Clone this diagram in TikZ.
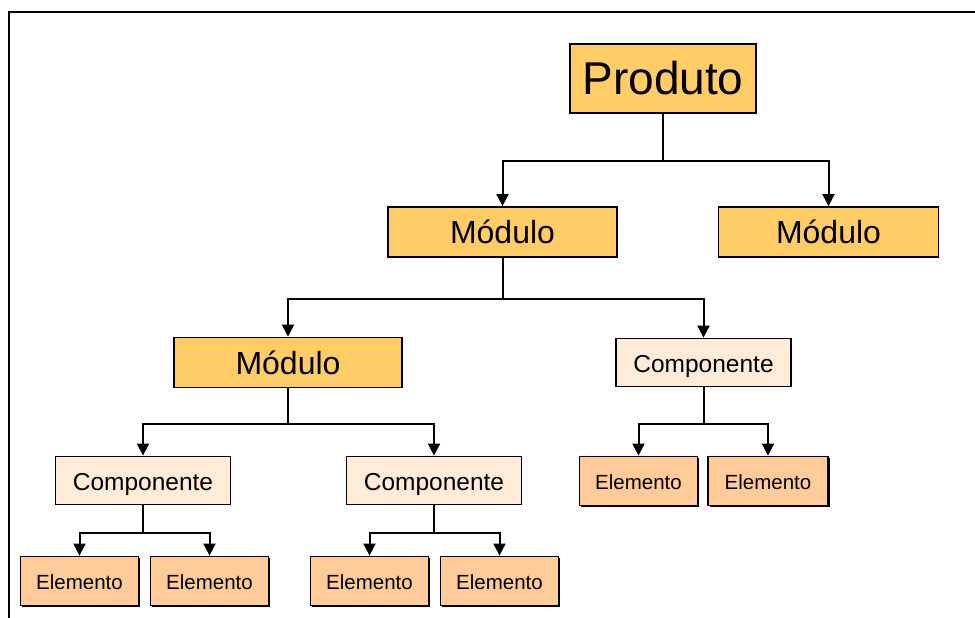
\documentclass[tikz,border=0pt]{standalone}
\usepackage{fontspec}
\setmainfont{Liberation Sans}
\usetikzlibrary{arrows.meta,shadows}
\definecolor{modfill}{RGB}{255,204,102}
\definecolor{compfill}{RGB}{255,236,216}
\definecolor{elemfill}{RGB}{255,204,153}
\begin{document}
\begin{tikzpicture}[x=1pt,y=-1pt,
  box/.style={draw=black, line width=1.8pt, inner sep=0pt, anchor=center, text depth=0pt},
  prodbox/.style={box, fill=modfill, minimum width=186pt, minimum height=69pt,
    font=\fontsize{46}{50}\selectfont, text height=33pt},
  modbox/.style={box, fill=modfill, minimum width=229pt, minimum height=50pt,
    font=\fontsize{32}{36}\selectfont, text height=23pt},
  compbox/.style={box, fill=compfill, minimum width=175pt, minimum height=48pt,
    font=\fontsize{24.5}{28}\selectfont, text height=20pt},
  elembox/.style={box, fill=elemfill, minimum width=118pt, minimum height=49pt,
    font=\fontsize{20.5}{24}\selectfont, text height=17pt,
    drop shadow={shadow xshift=1.8pt, shadow yshift=-1.8pt, fill=black, opacity=1}},
  link/.style={draw=black, line width=2pt, -{Triangle[length=12pt,width=12pt]}},
  frameline/.style={draw=black, line width=2.2pt}
]
\useasboundingbox (0,0) rectangle (975,618);
% outer frame (top and left edges)
\draw[frameline] (9,618) -- (9,12) -- (975,12);

% nodes
\node[prodbox] (prod) at (663,78.5) {Produto};
\node[modbox] (modA) at (502.5,232) {Módulo};
\node[modbox, minimum width=220pt] (modB) at (828.5,232) {Módulo};
\node[modbox, minimum width=228pt] (modC) at (288,362.5) {Módulo};
\node[compbox] (compR) at (703.5,362.5) {Componente};
\node[compbox] (compL) at (143,480.5) {Componente};
\node[compbox] (compM) at (434,480.5) {Componente};
\node[elembox] (eR1) at (638.5,481) {Elemento};
\node[elembox, minimum width=120pt] (eR2) at (768,481) {Elemento};
\node[elembox] (eL1) at (79.5,581) {Elemento};
\node[elembox] (eL2) at (209.5,581) {Elemento};
\node[elembox] (eM1) at (369.5,581) {Elemento};
\node[elembox] (eM2) at (499.5,581) {Elemento};

% connectors
\draw[link] (prod.south) -- ++(0,47.5) -| (modA.north);
\draw[link] (prod.south) ++(0,47.5) -| (modB.north);
\draw[link] (modA.south) -- ++(0,41) -| (modC.north);
\draw[link] (modA.south) ++(0,41) -| (compR.north);
\draw[link] (modC.south) -- ++(0,35.5) -| (compL.north);
\draw[link] (modC.south) ++(0,35.5) -| (compM.north);
\draw[link] (compR.south) -- ++(0,36.5) -| (eR1.north);
\draw[link] (compR.south) ++(0,36.5) -| (eR2.north);
\draw[link] (compL.south) -- ++(0,27.5) -| (eL1.north);
\draw[link] (compL.south) ++(0,27.5) -| (eL2.north);
\draw[link] (compM.south) -- ++(0,27.5) -| (eM1.north);
\draw[link] (compM.south) ++(0,27.5) -| (eM2.north);
\end{tikzpicture}
\end{document}
